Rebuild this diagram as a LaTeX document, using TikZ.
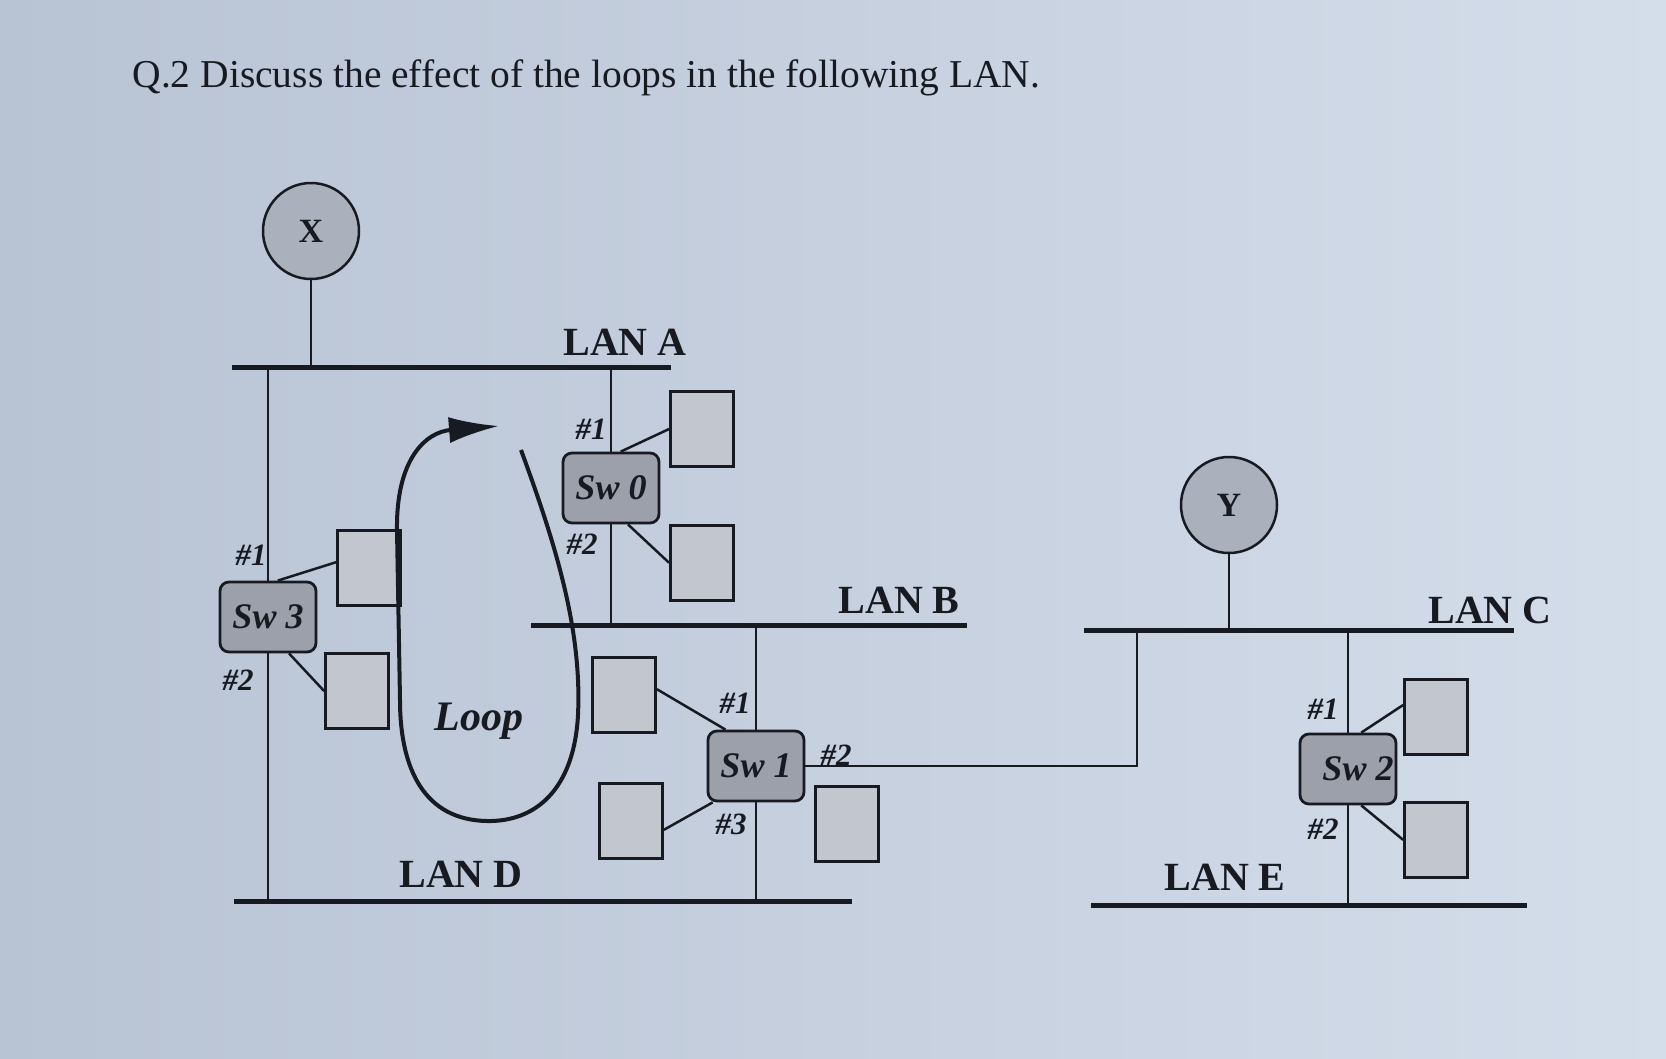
\documentclass[tikz,border=0pt]{standalone}
\usepackage{fontspec}
\setmainfont{Liberation Serif}
\usetikzlibrary{arrows.meta, positioning, calc}
\definecolor{paperL}{RGB}{184,195,212}
\definecolor{paperR}{RGB}{212,221,234}
\definecolor{hostgray}{RGB}{194,198,206}
\definecolor{swgray}{RGB}{156,160,170}
\definecolor{stagray}{RGB}{170,176,188}
\definecolor{ink}{RGB}{24,26,34}

\begin{document}
\begin{tikzpicture}[x=1pt, y=-1pt,
    swbox/.style={rectangle, draw=ink, fill=swgray, line width=2.8pt, rounded corners=9pt, minimum width=96pt, minimum height=70pt, inner sep=0pt, text=ink, font=\bfseries\itshape\fontsize{36}{40}\selectfont},
    hostbox/.style={rectangle, draw=ink, fill=hostgray, line width=2.8pt, minimum width=63pt, minimum height=75pt},
    station/.style={circle, draw=ink, fill=stagray, line width=2.5pt, minimum size=96pt, inner sep=0pt, text=ink, font=\bfseries\fontsize{34}{38}\selectfont},
    bus/.style={draw=ink, line width=5pt},
    link/.style={draw=ink, line width=2.5pt},
    looparrow/.style={draw=ink, line width=4pt, -{Latex[length=50pt, width=26pt]}},
    lanlabel/.style={font=\bfseries\fontsize{40}{44}\selectfont, text=ink},
    portlabel/.style={font=\bfseries\itshape\fontsize{31}{34}\selectfont, text=ink, inner sep=0pt}]

  \shade[left color=paperL, right color=paperR] (0,0) rectangle (1666,1058);
  \useasboundingbox (0,0) rectangle (1666,1058);

  \node[anchor=west, text=ink, font=\fontsize{39.5}{48}\selectfont] (title) at (129,78) {Q.2 Discuss the effect of the loops in the following LAN.};

  \coordinate (lanAw) at (232,367);  \coordinate (lanAe) at (671,367);
  \coordinate (lanBw) at (531,625);  \coordinate (lanBe) at (967,625);
  \coordinate (lanDw) at (234,901);  \coordinate (lanDe) at (852,901);
  \coordinate (lanCw) at (1084,630); \coordinate (lanCe) at (1514,630);
  \coordinate (lanEw) at (1091,905); \coordinate (lanEe) at (1527,905);
  \coordinate (lanCj) at (1137,630);

  \node[station] (stax) at (311,231) {X};
  \node[station] (stay) at (1229,505) {Y};

  \node[swbox] (sw3) at (268,617) {Sw 3};
  \node[swbox] (sw0) at (611,488) {Sw 0};
  \node[swbox] (sw1) at (756,766) {Sw 1};
  \node[swbox] (sw2) at (1348,769) {\hspace*{20pt}Sw 2};

  \node[hostbox] (h3a) at (369,568) {};
  \node[hostbox] (h3b) at (357,691) {};
  \node[hostbox] (h0a) at (702,429) {};
  \node[hostbox, below=56pt of h0a] (h0b) {};
  \node[hostbox] (h1a) at (624,695) {};
  \node[hostbox] (h1b) at (631,821) {};
  \node[hostbox] (h1c) at (847,824) {};
  \node[hostbox] (h2a) at (1436,717) {};
  \node[hostbox, below=45pt of h2a] (h2b) {};

  \draw[bus] (lanAw) -- (lanAe);
  \draw[bus] (lanBw) -- (lanBe);
  \draw[bus] (lanDw) -- (lanDe);
  \draw[bus] (lanCw) -- (lanCe);
  \draw[bus] (lanEw) -- (lanEe);

  \draw[link] (stax.south) -- (stax.south |- lanAw);
  \draw[link] (stay.south) -- (stay.south |- lanCw);
  \draw[link] (sw3.north) -- (sw3.north |- lanAw);
  \draw[link] (sw3.south) -- (sw3.south |- lanDw);
  \draw[link] (sw0.north) -- (sw0.north |- lanAw);
  \draw[link] (sw0.south) -- (sw0.south |- lanBw);
  \draw[link] (sw1.north) -- (sw1.north |- lanBw);
  \draw[link] (sw1.south) -- (sw1.south |- lanDw);
  \draw[link] (sw2.north) -- (sw2.north |- lanCw);
  \draw[link] (sw2.south) -- (sw2.south |- lanEw);
  \draw[link] (sw1.east) -| (lanCj);

  \draw[link] (sw3.75) -- (h3a.170);
  \draw[link] (sw3.-60) -- (h3b.west);
  \draw[link] (sw0.75) -- (h0a.west);
  \draw[link] (sw0.-65) -- (h0b.west);
  \draw[link] (h1a.10) -- (sw1.130);
  \draw[link] (h1b.-15) -- (sw1.-140);
  \draw[link] (sw2.70) -- (h2a.160);
  \draw[link] (sw2.-70) -- (h2b.west);

  \coordinate (loopstart) at (521,450);
  \coordinate (looptip) at (499,426);
  \draw[looparrow] (loopstart) .. controls (556,545) and (582,630) .. (578,715)
    .. controls (574,790) and (535,822) .. (487,821)
    .. controls (425,820) and (400,770) .. (400,700) -- (397,530)
    .. controls (396,460) and (425,432) .. (looptip);
  \node[text=ink, font=\bfseries\itshape\fontsize{42}{46}\selectfont] (looplbl) at (479,721) {Loop};

  \node[lanlabel] (lblA) at (625,342) {LAN A};
  \node[lanlabel] (lblB) at (899,600) {LAN B};
  \node[lanlabel] (lblC) at (1490,610) {LAN C};
  \node[lanlabel] (lblD) at (461,874) {LAN D};
  \node[lanlabel] (lblE) at (1225,877) {LAN E};

  \node[portlabel] (p3a) at (251,555) {\#1};
  \node[portlabel] (p3b) at (238,680) {\#2};
  \node[portlabel] (p0a) at (591,429) {\#1};
  \node[portlabel] (p0b) at (582,544) {\#2};
  \node[portlabel] (p1a) at (735,703) {\#1};
  \node[portlabel] (p1b) at (836,755) {\#2};
  \node[portlabel] (p1c) at (731,824) {\#3};
  \node[portlabel] (p2a) at (1323,709) {\#1};
  \node[portlabel] (p2b) at (1323,829) {\#2};
\end{tikzpicture}
\end{document}
